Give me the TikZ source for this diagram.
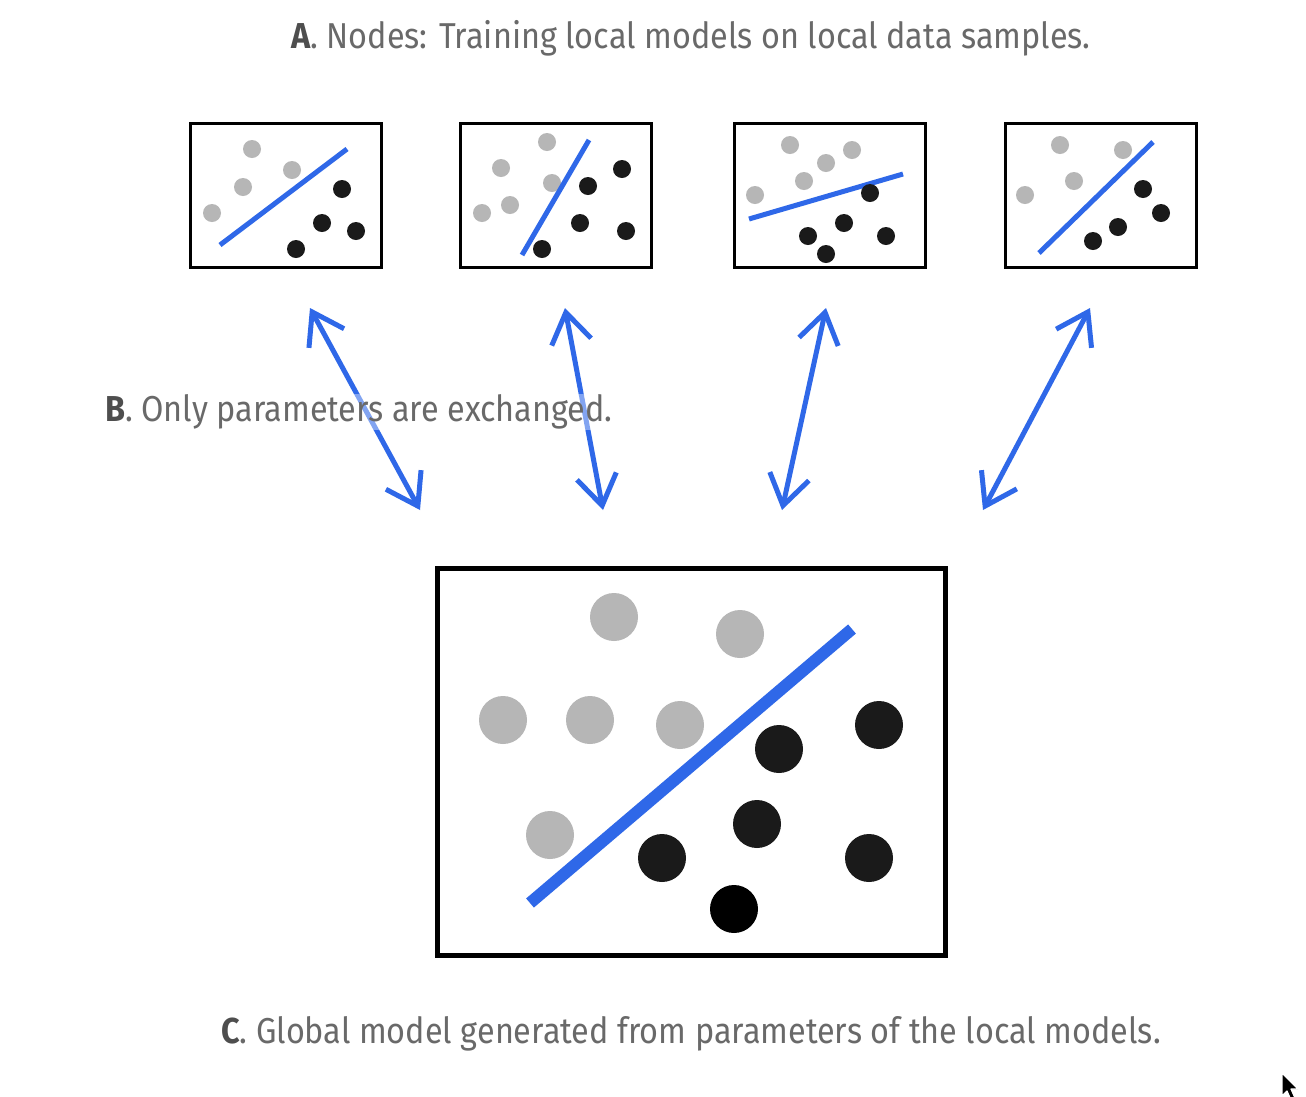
\documentclass[tikz,border=0pt]{standalone}
\usepackage{fontspec}
\setmainfont[FakeStretch=0.90]{Fira Sans}
\usetikzlibrary{arrows.meta,positioning}
\definecolor{cBlue}{RGB}{47,104,232}
\definecolor{cDot}{RGB}{182,182,182}
\definecolor{cInk}{RGB}{26,26,26}
\definecolor{cText}{RGB}{105,105,105}
\definecolor{cHead}{RGB}{78,78,78}
\tikzset{
  localbox/.style={rectangle,draw=black,line width=3pt,inner sep=0pt,
                   minimum width=191pt,minimum height=144pt},
  globalbox/.style={rectangle,draw=black,line width=5pt,inner sep=0pt,
                    minimum width=508pt,minimum height=387pt},
  lightdot/.style={fill=cDot},
  darkdot/.style={fill=cInk},
  splitline/.style={draw=cBlue,line width=5pt},
  xarr/.style={{Straight Barb[length=30pt,width=40pt]}-{Straight Barb[length=30pt,width=40pt]},
               draw=cBlue,line width=5pt},
  caption/.style={anchor=west,inner sep=1pt,text=cText,
                  font=\fontsize{36}{40}\selectfont}
}

\begin{document}
\begin{tikzpicture}[x=1pt,y=-1pt]
  \useasboundingbox[fill=white] (0,0) rectangle (1306,1096);

  % local nodes
  \node[localbox] (loc1) at (285.5,195) {};
  \node[localbox,right=76pt of loc1] (loc2) {};
  \node[localbox,right=80pt of loc2] (loc3) {};
  \node[localbox,right=77pt of loc3] (loc4) {};

  \foreach \x/\y in {252/149,292/170,243/187,212/213,
                     547/142,501/168,552/183,510/205,482/213,
                     790/145,852/150,826/163,804/181,755/195,
                     1060/145,1123/150,1074/181,1025/195}
    \fill[lightdot] (\x,\y) circle (9);
  \draw[splitline] (220,245) -- (347,149);
  \draw[splitline] (522,255) -- (589,140);
  \draw[splitline] (749,219) -- (903,174);
  \draw[splitline] (1039,253) -- (1153,142);
  \foreach \x/\y in {342/189,322/223,356/231,296/249,
                     622/169,588/186,580/223,626/231,542/249,
                     870/193,844/223,808/236,886/236,826/254,
                     1143/189,1161/213,1118/227,1093/241}
    \fill[darkdot] (\x,\y) circle (9);

  % global model
  \node[globalbox] (glob) at (691.5,762) {};
  \foreach \x/\y in {614/617,740/634,503/720,590/720,680/725,550/835}
    \fill[lightdot] (\x,\y) circle (24);
  \draw[draw=cBlue,line width=12pt] (530,903) -- (852,629);
  \foreach \x/\y in {779/749,879/725,757/824,662/858,869/858}
    \fill[darkdot] (\x,\y) circle (24);
  \fill[black] (734,909) circle (24);

  % parameter exchange
  \coordinate (t1) at (310,308);  \coordinate (b1) at (420,510);
  \coordinate (t2) at (565,308);  \coordinate (b2) at (603,510);
  \coordinate (t3) at (826,308);  \coordinate (b3) at (782,510);
  \coordinate (t4) at (1090,308); \coordinate (b4) at (983,510);
  \foreach \i in {1,...,4}
    \draw[xarr] (t\i) -- (b\i);

  \node[caption] (capA) at (290,38) {{\color{cHead}\bfseries A}. Nodes: Training local models on local data samples.};
  \node[caption,fill=white,fill opacity=0.4,text opacity=1] (capB) at (104,412) {{\color{cHead}\bfseries B}. Only parameters are exchanged.};
  \node[caption] (capC) at (220,1034) {{\color{cHead}\bfseries C}. Global model generated from parameters of the local models.};

  % pointer
  \draw[fill=black,draw=white,line width=1.2pt,line join=round]
    (1282,1073) -- ++(0,23) -- ++(5,-5) -- ++(4,9) -- ++(4,-2) -- ++(-4,-9) -- ++(7,0) -- cycle;
\end{tikzpicture}
\end{document}
